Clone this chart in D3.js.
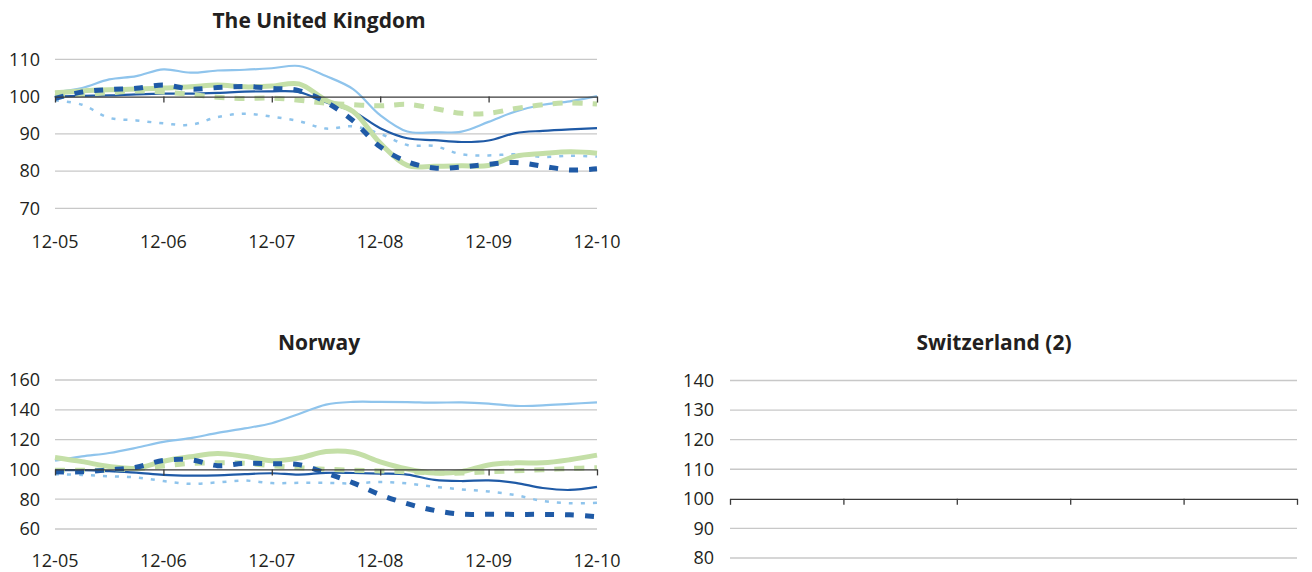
<!DOCTYPE html>
<html>
<head>
<meta charset="utf-8">
<script src="https://cdn.jsdelivr.net/npm/d3@7"></script>
<style>
  html, body { margin: 0; padding: 0; background: #fff; }
  svg { display: block; }
  text { font-family: "Open Sans", "Noto Sans", sans-serif; fill: #231f20; }
</style>
</head>
<body>
<svg id="chart" width="1312" height="572"></svg>
<script>
// ---- Data (quarterly points, index 0 = 12-05 ... 20 = 12-10) ----
const tickLabels = ["12-05", "12-06", "12-07", "12-08", "12-09", "12-10"];
const tickQuarters = [0, 4, 8, 12, 16, 20];

// The United Kingdom
const ukLightSolid  = [101.2, 102.3, 104.6, 105.5, 107.3, 106.4, 107.0, 107.2, 107.6, 108.2, 105.5, 102.0, 95.0, 90.6, 90.4, 90.6, 93.2, 96.0, 97.8, 98.7, 100.1];
const ukDarkSolid   = [100.0, 100.2, 100.3, 100.6, 100.8, 100.8, 101.0, 101.3, 101.4, 101.2, 98.5, 96.0, 91.5, 88.8, 88.3, 87.8, 88.2, 90.2, 90.8, 91.2, 91.5];
const ukGreenSolid  = [101.0, 101.5, 101.8, 102.0, 102.3, 102.6, 103.1, 102.6, 102.8, 103.4, 99.0, 96.0, 87.5, 81.5, 81.3, 81.4, 81.5, 84.0, 84.7, 85.2, 84.8];
const ukGreenDash   = [100.0, 100.6, 101.0, 101.5, 101.2, 100.6, 99.8, 99.5, 99.6, 99.0, 98.2, 97.8, 97.5, 97.9, 96.8, 95.5, 95.5, 96.8, 97.8, 98.3, 98.0];
const ukDarkDash    = [99.5, 101.2, 101.9, 102.2, 103.1, 102.0, 102.4, 102.7, 102.2, 101.6, 98.5, 93.5, 86.5, 82.5, 80.8, 81.1, 81.8, 82.3, 81.3, 80.3, 80.6];
const ukLightDot    = [99.0, 97.8, 94.3, 93.6, 92.8, 92.4, 94.5, 95.4, 94.6, 93.4, 91.4, 92.0, 90.0, 87.0, 86.7, 84.5, 84.2, 84.5, 83.8, 84.1, 83.9];

// Norway
const noLightSolid  = [105.8, 108.7, 111.0, 114.5, 118.5, 121.0, 124.5, 127.5, 131.0, 137.2, 143.5, 145.3, 145.3, 145.2, 144.8, 145.0, 144.2, 142.6, 143.0, 144.0, 145.0];
const noDarkSolid   = [99.5, 99.5, 98.8, 97.8, 96.3, 95.8, 96.0, 96.8, 97.4, 96.5, 97.7, 97.6, 97.2, 96.5, 93.0, 92.2, 92.6, 91.0, 87.5, 86.2, 88.3];
const noGreenSolid  = [108.0, 105.2, 102.0, 100.8, 105.5, 108.5, 110.7, 108.8, 105.8, 107.6, 112.0, 111.5, 105.1, 100.3, 97.5, 98.5, 103.0, 104.4, 104.4, 106.5, 109.6];
const noGreenDash   = [99.5, 99.4, 99.7, 100.5, 102.3, 104.0, 104.4, 104.2, 102.4, 101.1, 100.1, 99.5, 99.0, 98.4, 97.7, 97.5, 98.4, 99.1, 99.8, 100.6, 101.1];
const noDarkDash    = [98.4, 98.4, 99.7, 101.5, 106.0, 106.5, 102.5, 104.0, 103.8, 103.2, 97.5, 91.0, 83.0, 77.0, 72.5, 70.0, 69.9, 69.8, 69.8, 69.5, 68.2];
const noLightDot    = [96.8, 96.3, 95.4, 94.6, 92.2, 90.3, 91.3, 92.5, 90.8, 91.0, 91.0, 90.6, 91.6, 90.6, 88.3, 86.6, 85.2, 82.7, 78.8, 77.3, 77.6];

// Tick values
const ukTicks = [70, 80, 90, 100, 110];
const noTicks = [60, 80, 100, 120, 140, 160];
const chTicks = [80, 90, 100, 110, 120, 130, 140];

// ---- Styles ----
const C_DARK = "#1f5aa6", C_LIGHT = "#8fc4ec", C_GREEN = "#c4dfa7";
const styles = {
  lightSolid: { color: C_LIGHT, width: 2.2, dash: null },
  darkSolid:  { color: C_DARK,  width: 2.2, dash: null },
  greenSolid: { color: C_GREEN, width: 5,   dash: null },
  greenDash:  { color: C_GREEN, width: 5,   dash: "10,10" },
  darkDash:   { color: C_DARK,  width: 5,   dash: "9,11" },
  lightDot:   { color: C_LIGHT, width: 2.5, dash: "4,8" }
};

const panels = [
  { title: "The United Kingdom", titleX: 319, titleY: 28,
    x0: 55, x1: 597, yDomain: [70, 110], yRange: [208.3, 59.3], ticks: ukTicks,
    labelX: 40, xLabelY: 248, showXLabels: true,
    series: [
      ["lightDot", ukLightDot], ["lightSolid", ukLightSolid], ["darkSolid", ukDarkSolid],
      ["greenDash", ukGreenDash], ["greenSolid", ukGreenSolid], ["darkDash", ukDarkDash]
    ] },
  { title: "Norway", titleX: 319, titleY: 350,
    x0: 55, x1: 597, yDomain: [60, 160], yRange: [529, 380], ticks: noTicks,
    labelX: 40, xLabelY: 567, showXLabels: true,
    series: [
      ["lightDot", noLightDot], ["lightSolid", noLightSolid], ["darkSolid", noDarkSolid],
      ["greenSolid", noGreenSolid], ["greenDash", noGreenDash], ["darkDash", noDarkDash]
    ] },
  { title: "Switzerland (2)", titleX: 994, titleY: 350,
    x0: 730, x1: 1297, yDomain: [80, 140], yRange: [558, 380.5], ticks: chTicks,
    labelX: 714, xLabelY: 597, showXLabels: false,
    series: [] }
];

const svg = d3.select("#chart");

panels.forEach(p => {
  const g = svg.append("g");
  const x = d3.scaleLinear().domain([0, 20]).range([p.x0, p.x1]);
  const y = d3.scaleLinear().domain(p.yDomain).range(p.yRange);

  // title
  g.append("text").attr("x", p.titleX).attr("y", p.titleY)
    .attr("text-anchor", "middle").attr("font-weight", "bold")
    .attr("font-size", 21).text(p.title);

  // gridlines (non-100)
  g.selectAll("line.grid").data(p.ticks.filter(t => t !== 100)).enter()
    .append("line").attr("class", "grid")
    .attr("x1", p.x0).attr("x2", p.x1)
    .attr("y1", d => y(d)).attr("y2", d => y(d))
    .attr("stroke", "#c8c8c8").attr("stroke-width", 1.3);

  // y labels
  g.selectAll("text.ylab").data(p.ticks).enter()
    .append("text").attr("class", "ylab")
    .attr("x", p.labelX).attr("y", d => y(d))
    .attr("dy", "0.35em").attr("text-anchor", "end")
    .attr("font-size", 18).text(d => d);

  // series lines
  const line = d3.line()
    .x((d, i) => x(i)).y(d => y(d))
    .curve(d3.curveCatmullRom.alpha(0.5));
  p.series.forEach(([key, vals]) => {
    const s = styles[key];
    g.append("path").datum(vals)
      .attr("d", line).attr("fill", "none")
      .attr("stroke", s.color).attr("stroke-width", s.width)
      .attr("stroke-dasharray", s.dash)
      .attr("stroke-linejoin", "round");
  });

  // axis at 100 with downward ticks
  const axis = d3.axisBottom(x)
    .tickValues(tickQuarters)
    .tickFormat("")
    .tickSizeInner(6).tickSizeOuter(0);
  const ax = g.append("g").attr("transform", `translate(0,${y(100)})`).call(axis);
  ax.select(".domain").attr("stroke", "#3a3a3a").attr("stroke-width", 1.3);
  ax.selectAll(".tick line").attr("stroke", "#3a3a3a").attr("stroke-width", 1.3);

  // x labels
  if (p.showXLabels) {
    g.selectAll("text.xlab").data(tickQuarters).enter()
      .append("text").attr("class", "xlab")
      .attr("x", d => x(d)).attr("y", p.xLabelY)
      .attr("text-anchor", "middle").attr("font-size", 18)
      .text((d, i) => tickLabels[i]);
  }
});
</script>
</body>
</html>
